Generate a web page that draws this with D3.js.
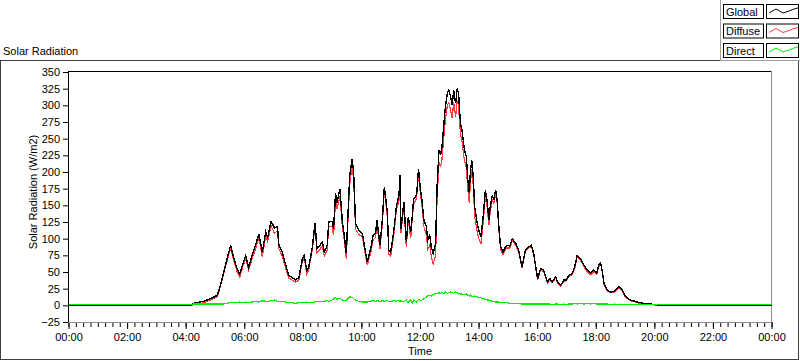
<!DOCTYPE html>
<html>
<head>
<meta charset="utf-8">
<script src="https://cdn.jsdelivr.net/npm/d3@7"></script>
<style>
  body { margin: 0; background: #fff; }
  svg text { font-family: "Liberation Sans", Arial, sans-serif; font-size: 11px; fill: #000; }
</style>
</head>
<body>
<div id="chart"></div>
<script>
// minutes since midnight
const times = [0, 250, 257, 277, 294, 305, 311, 318, 325, 332, 339, 346, 351, 356, 363, 369, 376, 383, 390, 397,
  404, 408, 415, 422, 428, 431, 438, 445, 451, 458, 465, 472, 479, 483, 488, 492, 499, 505, 509, 515,
  520, 524, 530, 533, 540, 543, 547, 550, 556, 561, 564, 569, 573, 576, 581, 584, 588, 595, 602, 606,
  612, 619, 624, 629, 632, 638, 643, 647, 653, 656, 660, 666, 672, 677, 679, 681, 687, 692, 696, 701,
  704, 707, 713, 717, 721, 724, 728, 733, 736, 740, 743, 747, 752, 755, 759, 762, 765, 769, 772, 776,
  779, 782, 786, 789, 793, 796, 799, 801, 803, 806, 811, 815, 818, 821, 823, 826, 829, 832, 836, 840,
  845, 850, 854, 858, 861, 864, 868, 871, 875, 878, 881, 885, 890, 897, 904, 909, 916, 922, 929, 936,
  943, 948, 953, 957, 961, 967, 973, 981, 986, 991, 998, 1002, 1008, 1015, 1020, 1025, 1032, 1037, 1042, 1049,
  1056, 1063, 1069, 1076, 1082, 1086, 1090, 1093, 1097, 1104, 1110, 1118, 1127, 1134, 1141, 1151, 1165, 1178, 1192, 1213,
  1440];

const globalRad = [0, 0, 3, 6, 11, 15, 30, 50, 70, 90, 70, 53, 47, 60, 75, 57, 75, 90, 107, 80,
  110, 102, 126, 116, 118, 90, 80, 60, 45, 42, 38, 42, 70, 75, 52, 57, 85, 123, 85, 90,
  95, 80, 90, 125, 126, 115, 168, 153, 175, 125, 110, 78, 145, 195, 220, 200, 122, 112, 108, 90,
  65, 85, 105, 108, 128, 90, 130, 178, 140, 83, 80, 110, 150, 165, 195, 115, 155, 95, 132, 110,
  132, 160, 165, 205, 173, 158, 128, 118, 98, 105, 88, 78, 93, 178, 233, 225, 238, 273, 298, 318,
  323, 315, 300, 323, 303, 325, 318, 293, 273, 263, 233, 223, 188, 168, 198, 218, 193, 148, 128, 113,
  103, 138, 173, 153, 128, 148, 165, 158, 173, 158, 123, 88, 80, 90, 89, 100, 93, 83, 58, 83,
  88, 90, 78, 58, 40, 55, 53, 35, 40, 35, 43, 35, 30, 38, 38, 45, 48, 58, 75, 70,
  60, 53, 48, 53, 48, 60, 64, 53, 33, 23, 20, 21, 28, 23, 13, 8, 5, 3, 2, 0,
  0];

const diffuseRad = [0, 0, 1, 4, 9, 13, 28, 48, 67, 86, 66, 49, 42, 56, 70, 53, 70, 84, 102, 73,
  104, 96, 119, 108, 112, 85, 74, 55, 41, 38, 35, 38, 66, 71, 47, 53, 81, 118, 79, 84,
  89, 74, 83, 119, 118, 105, 156, 144, 164, 117, 103, 70, 135, 182, 208, 190, 114, 106, 103, 85,
  60, 79, 98, 102, 121, 84, 123, 172, 133, 77, 74, 103, 144, 157, 189, 108, 150, 87, 128, 101,
  129, 152, 160, 196, 166, 150, 118, 106, 84, 90, 74, 62, 75, 161, 214, 207, 219, 255, 278, 300,
  304, 295, 281, 305, 283, 306, 301, 275, 256, 246, 217, 206, 173, 154, 182, 204, 180, 134, 115, 101,
  92, 128, 164, 145, 120, 141, 159, 152, 168, 153, 118, 84, 76, 86, 86, 97, 90, 80, 56, 81,
  86, 88, 76, 56, 38, 53, 51, 33, 38, 34, 41, 33, 29, 36, 37, 43, 46, 55, 73, 67,
  58, 50, 46, 50, 46, 58, 62, 51, 31, 21, 19, 19, 27, 22, 12, 7, 4, 2, 1, 0,
  0];

const directRad = [1, 1, 2, 2, 2, 2, 2, 2, 3, 4, 4, 4, 5, 4, 5, 4, 5, 6, 5, 7,
  6, 6, 7, 8, 6, 5, 6, 5, 4, 4, 3, 4, 4, 4, 5, 4, 4, 5, 6, 6,
  6, 6, 7, 6, 8, 10, 12, 9, 11, 8, 7, 8, 10, 13, 12, 10, 8, 6, 5, 5,
  5, 6, 7, 6, 7, 6, 7, 6, 7, 6, 6, 7, 6, 8, 6, 7, 5, 8, 4, 9,
  3, 8, 5, 9, 7, 8, 10, 12, 14, 15, 14, 16, 18, 17, 19, 18, 19, 18, 20, 18,
  19, 20, 19, 18, 20, 19, 17, 18, 17, 17, 16, 17, 15, 14, 16, 14, 13, 14, 13, 12,
  11, 10, 9, 8, 8, 7, 6, 6, 5, 5, 5, 4, 4, 4, 3, 3, 3, 3, 2, 2,
  2, 2, 2, 2, 2, 2, 2, 2, 2, 1, 2, 2, 1, 2, 1, 2, 2, 3, 2, 3,
  2, 3, 2, 3, 2, 2, 2, 2, 2, 2, 1, 2, 1, 1, 1, 1, 1, 1, 1, 1,
  1];

const xTicks = [0, 120, 240, 360, 480, 600, 720, 840, 960, 1080, 1200, 1320, 1440];
const yTicks = [-25, 0, 25, 50, 75, 100, 125, 150, 175, 200, 225, 250, 275, 300, 325, 350];
const legendNames = ["Global", "Diffuse", "Direct"];
const colors = { Global: "#000000", Diffuse: "#ff3c3c", Direct: "#00ee00" };

const W = 800, H = 361;
const svg = d3.select("#chart").append("svg").attr("width", W).attr("height", H);

// outer panel
svg.append("rect").attr("x", 0.5).attr("y", 60.5).attr("width", 798).attr("height", 299)
  .attr("fill", "#fff").attr("stroke", "#404040");
svg.append("text").attr("x", 3).attr("y", 55).text("Solar Radiation");

const x = d3.scaleLinear().domain([0, 1440]).range([68.5, 771.5]);
const y = d3.scaleLinear().domain([-25, 350]).range([322, 72]);

const fmt = m => d3.format("02d")(Math.floor(m / 60) % 24) + ":" + d3.format("02d")(m % 60);

// minor ticks every 15 minutes
const minor = svg.append("g").attr("transform", "translate(0,322)")
  .call(d3.axisBottom(x).tickValues(d3.range(0, 1441, 15)).tickSize(5).tickFormat(""));
minor.select(".domain").remove();
minor.selectAll("line").attr("stroke", "#000");

const xAxis = svg.append("g").attr("transform", "translate(0,322)")
  .call(d3.axisBottom(x).tickValues(xTicks).tickSize(7).tickPadding(4).tickFormat(fmt));
xAxis.select(".domain").remove();
xAxis.selectAll("text").style("font-size", "11px").style("font-family", null);

const yAxis = svg.append("g").attr("transform", "translate(68,0)")
  .call(d3.axisLeft(y).tickValues(yTicks).tickSize(5).tickPadding(3));
yAxis.select(".domain").remove();
yAxis.selectAll("text").style("font-size", "11px").style("font-family", null);

// plot frame: dark top/left, grey bottom/right
svg.append("line").attr("x1", 68.5).attr("x2", 68.5).attr("y1", 71).attr("y2", 322).attr("stroke", "#000");
svg.append("line").attr("x1", 68).attr("x2", 772).attr("y1", 71.5).attr("y2", 71.5).attr("stroke", "#000");
svg.append("line").attr("x1", 68).attr("x2", 772).attr("y1", 322.5).attr("y2", 322.5).attr("stroke", "#8c8c8c");
svg.append("line").attr("x1", 771.5).attr("x2", 771.5).attr("y1", 71).attr("y2", 323).attr("stroke", "#8c8c8c");

svg.append("text").attr("x", 420).attr("y", 355).attr("text-anchor", "middle").text("Time");
svg.append("text").attr("transform", "translate(37,192) rotate(-90)").attr("text-anchor", "middle")
  .text("Solar Radiation (W/m2)");

const series = { Global: globalRad, Diffuse: diffuseRad, Direct: directRad };
const line = d3.line().x((d, i) => x(times[i])).y(d => y(d));

// aliased 1px traces, like the original instrument panel
const plot = svg.append("g").attr("shape-rendering", "crispEdges");
["Diffuse", "Global", "Direct"].forEach(name => {
  plot.append("path").datum(series[name])
    .attr("fill", "none")
    .attr("stroke", colors[name])
    .attr("stroke-width", name === "Global" ? 1.4 : 1.2)
    .attr("d", line);
});

// legend
const lg = svg.append("g");
lg.append("rect").attr("x", 720).attr("y", -1).attr("width", 81).attr("height", 62).attr("fill", "#fff");
lg.append("line").attr("x1", 720.5).attr("x2", 720.5).attr("y1", 0).attr("y2", 61).attr("stroke", "#a0a0a0");
lg.append("line").attr("x1", 720).attr("x2", 800).attr("y1", 60.5).attr("y2", 60.5).attr("stroke", "#a0a0a0");
const wave = [[0, 5], [7, 1], [14, 5], [20, 3], [25, 1], [29, 0]];
legendNames.forEach((name, i) => {
  const top = 4 + i * 19.5;
  const row = lg.append("g").attr("transform", `translate(0,${top})`);
  row.append("rect").attr("x", 723.5).attr("y", 0.5).attr("width", 40).attr("height", 14)
    .attr("fill", "#fff").attr("stroke", "#000");
  row.append("text").attr("x", 726).attr("y", 11.5).text(name);
  row.append("rect").attr("x", 766.5).attr("y", 0.5).attr("width", 32).attr("height", 14)
    .attr("fill", "#fff").attr("stroke", "#000");
  row.append("path").attr("d", d3.line()(wave.map(p => [769 + p[0], 4 + p[1]])))
    .attr("fill", "none").attr("stroke", colors[name]).attr("stroke-width", 1);
});
</script>
</body>
</html>
